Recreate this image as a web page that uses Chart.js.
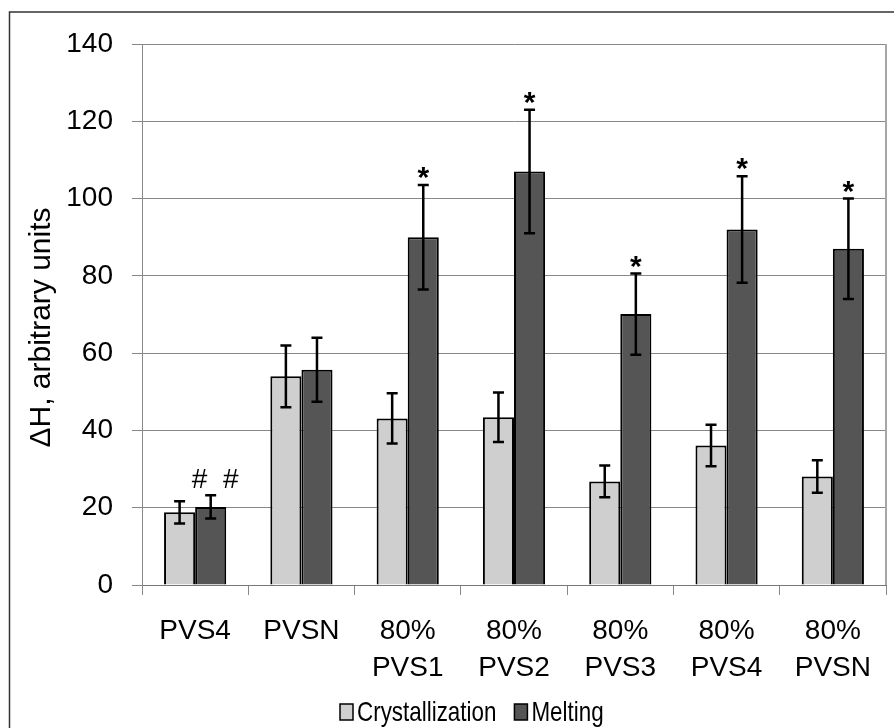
<!DOCTYPE html>
<html>
<head>
<meta charset="utf-8">
<script src="https://cdn.jsdelivr.net/npm/chart.js@4.4.0/dist/chart.umd.min.js"></script>
<style>
    html, body { margin: 0; padding: 0; background: #fff; }
</style>
</head>
<body>
<canvas id="heatChart" width="894" height="728"></canvas>
<script>
// samples
var categories = [['PVS4'], ['PVSN'], ['80%', 'PVS1'], ['80%', 'PVS2'], ['80%', 'PVS3'], ['80%', 'PVS4'], ['80%', 'PVSN']];

// Crystallization
var crystValues = [18.8, 54.0, 43.1, 43.4, 26.8, 36.1, 28.1];
var crystErrors = [2.9, 8.0, 6.5, 6.4, 4.1, 5.4, 4.2];
var crystMarks = ['#', '', '', '', '', '', ''];

// Melting
var meltValues = [20.2, 55.7, 90.0, 107.0, 70.1, 92.0, 87.0];
var meltErrors = [3.0, 8.3, 13.5, 16.0, 10.5, 13.8, 13.0];
var meltMarks = ['#', '', '*', '*', '*', '*', '*'];

var yTicks = [0, 20, 40, 60, 80, 100, 120, 140];
var yTitle = 'ΔH, arbitrary units';

var fontFamily = "'Liberation Sans', Arial, sans-serif";

// error bars + * / # marks
var errorBars = {
    id: 'errorBars',
    afterDatasetsDraw: function (chart) {
        var ctx = chart.ctx;
        var yScale = chart.scales.y;
        var caps = [];
        ctx.save();
        ctx.strokeStyle = '#000';
        ctx.lineWidth = 2.5;
        chart.data.datasets.forEach(function (ds, di) {
            var meta = chart.getDatasetMeta(di);
            meta.data.forEach(function (bar, i) {
                var hi = yScale.getPixelForValue(ds.data[i] + ds.errors[i]);
                var lo = yScale.getPixelForValue(ds.data[i] - ds.errors[i]);
                ctx.beginPath();
                ctx.moveTo(bar.x, hi);
                ctx.lineTo(bar.x, lo);
                ctx.moveTo(bar.x - 5.5, hi);
                ctx.lineTo(bar.x + 5.5, hi);
                ctx.moveTo(bar.x - 5.5, lo);
                ctx.lineTo(bar.x + 5.5, lo);
                ctx.stroke();
                caps[i] = caps[i] === undefined ? hi : Math.min(caps[i], hi);
            });
        });

        ctx.fillStyle = '#000';
        ctx.textAlign = 'center';
        ctx.textBaseline = 'alphabetic';
        chart.data.datasets.forEach(function (ds, di) {
            var meta = chart.getDatasetMeta(di);
            meta.data.forEach(function (bar, i) {
                var m = ds.marks[i];
                if (!m) return;
                var cy = caps[i] - 17;
                if (m === '*') {
                    ctx.font = 'bold 30px ' + fontFamily;
                    ctx.fillText(m, bar.x, cy + 19);
                } else {
                    ctx.font = '28px ' + fontFamily;
                    ctx.fillText(m, bar.x + 20, cy + 10);
                }
            });
        });
        ctx.restore();
    }
};

// frame, right border of plot, y title, legend
var frame = {
    id: 'frame',
    afterDraw: function (chart) {
        var ctx = chart.ctx;
        var a = chart.chartArea;
        ctx.save();
        ctx.strokeStyle = '#a6a6a6';
        ctx.lineWidth = 2;
        ctx.beginPath();
        ctx.moveTo(a.right, a.top);
        ctx.lineTo(a.right, a.bottom);
        ctx.stroke();

        ctx.strokeStyle = '#333';
        ctx.lineWidth = 1.5;
        ctx.beginPath();
        ctx.moveTo(9.5, 728);
        ctx.lineTo(9.5, 12);
        ctx.lineTo(894, 12);
        ctx.stroke();

        // y axis title
        ctx.save();
        ctx.translate(50, (a.top + a.bottom) / 2 + 13);
        ctx.rotate(-Math.PI / 2);
        ctx.fillStyle = '#000';
        ctx.font = '30px ' + fontFamily;
        ctx.textAlign = 'center';
        ctx.textBaseline = 'alphabetic';
        ctx.fillText(yTitle, 0, 0);
        ctx.restore();

        // legend (condensed like the source)
        var x = 340;
        var yMid = 712;
        ctx.font = '28px ' + fontFamily;
        ctx.textBaseline = 'middle';
        ctx.textAlign = 'left';
        chart.data.datasets.forEach(function (ds) {
            ctx.fillStyle = ds.backgroundColor;
            ctx.fillRect(x, yMid - 8, 13, 16);
            ctx.strokeStyle = '#000';
            ctx.lineWidth = 1.5;
            ctx.strokeRect(x, yMid - 8, 13, 16);
            x += 17;
            var w = ctx.measureText(ds.label).width * 0.8;
            ctx.save();
            ctx.translate(x, yMid + 1);
            ctx.scale(0.8, 1);
            ctx.fillStyle = '#000';
            ctx.fillText(ds.label, 0, 0);
            ctx.restore();
            x += w + 18;
        });
        ctx.restore();
    }
};

var heatCanvas = document.getElementById('heatChart');

var dataFirst = {
    label: 'Crystallization',
    data: crystValues,
    errors: crystErrors,
    marks: crystMarks,
    backgroundColor: '#d0cfd0',
    borderColor: '#000',
    borderWidth: 2,
    borderSkipped: 'bottom',
    categoryPercentage: 0.585,
    barPercentage: 1.0
};

var dataSecond = {
    label: 'Melting',
    data: meltValues,
    errors: meltErrors,
    marks: meltMarks,
    backgroundColor: '#555555',
    borderColor: '#000',
    borderWidth: 2,
    borderSkipped: 'bottom',
    categoryPercentage: 0.585,
    barPercentage: 1.0
};

var barChart = new Chart(heatCanvas, {
    type: 'bar',
    data: {
        labels: categories,
        datasets: [dataFirst, dataSecond]
    },
    options: {
        responsive: false,
        animation: false,
        devicePixelRatio: 1,
        layout: {
            padding: {left: 0, right: 8, top: 44, bottom: 40}
        },
        plugins: {
            tooltip: {enabled: false},
            legend: {display: false}
        },
        scales: {
            x: {
                grid: {
                    offset: true,
                    drawOnChartArea: false,
                    drawTicks: true,
                    tickLength: 10,
                    color: '#888'
                },
                border: {display: true, color: '#777', width: 1},
                ticks: {
                    color: '#000',
                    font: {family: fontFamily, size: 28, lineHeight: 1.35},
                    padding: 17,
                    maxRotation: 0,
                    autoSkip: false
                },
                afterFit: function (scale) {
                    scale.height = 728 - 40 - 585;
                }
            },
            y: {
                min: 0,
                max: 140,
                afterBuildTicks: function (scale) {
                    scale.ticks = yTicks.map(function (v) { return {value: v}; });
                },
                grid: {
                    color: '#888',
                    tickLength: 10,
                    drawTicks: true
                },
                border: {display: true, color: '#888', width: 1},
                ticks: {
                    color: '#000',
                    font: {family: fontFamily, size: 28},
                    padding: 19
                },
                afterFit: function (scale) {
                    scale.width = 142;
                }
            }
        }
    },
    plugins: [errorBars, frame]
});
</script>
</body>
</html>
